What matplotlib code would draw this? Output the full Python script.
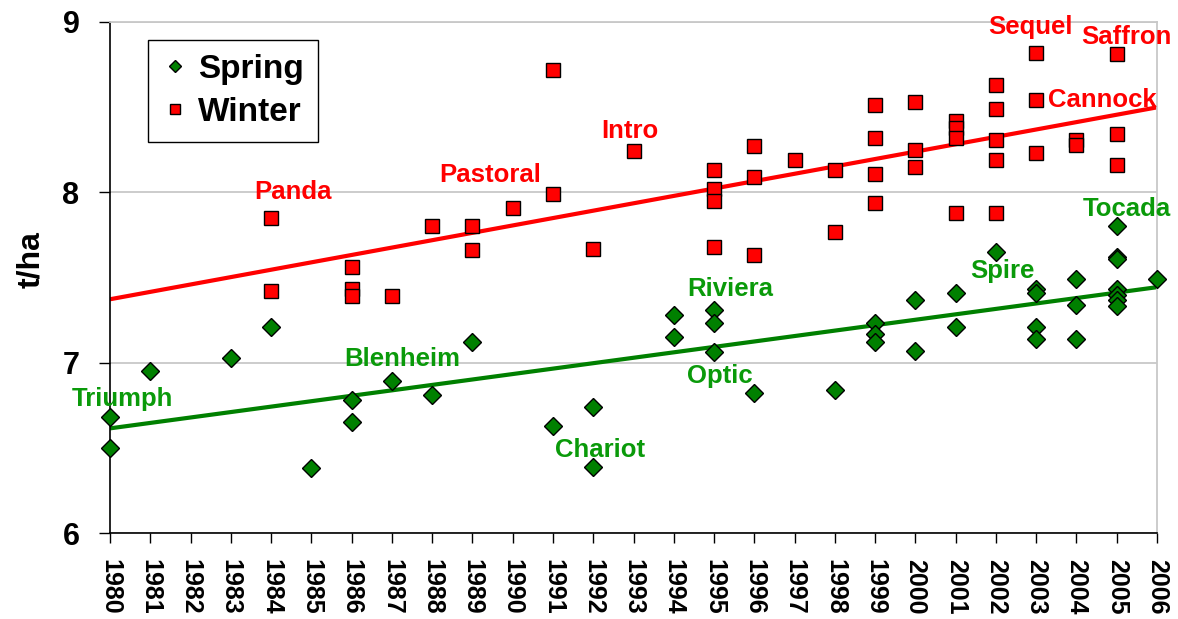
import matplotlib.pyplot as plt
import numpy as np

plt.rcParams['font.family'] = ['Liberation Sans', 'DejaVu Sans']
plt.rcParams['font.weight'] = 'bold'

# Data (t/ha)
spring_year = [1980, 1980, 1981, 1983, 1984, 1985, 1986, 1986, 1987, 1988, 1989,
               1991, 1992, 1992, 1994, 1994, 1995, 1995, 1995, 1996, 1998,
               1999, 1999, 1999, 2000, 2000, 2001, 2001, 2002,
               2003, 2003, 2003, 2003, 2004, 2004, 2004,
               2005, 2005, 2005, 2005, 2005, 2005, 2005, 2006]
spring_yield = [6.68, 6.50, 6.95, 7.03, 7.21, 6.38, 6.78, 6.65, 6.89, 6.81, 7.12,
                6.63, 6.74, 6.39, 7.28, 7.15, 7.31, 7.23, 7.06, 6.82, 6.84,
                7.23, 7.17, 7.12, 7.37, 7.07, 7.41, 7.21, 7.65,
                7.43, 7.41, 7.21, 7.14, 7.49, 7.34, 7.14,
                7.80, 7.62, 7.61, 7.43, 7.40, 7.37, 7.33, 7.49]

winter_year = [1984, 1984, 1986, 1986, 1986, 1987, 1988, 1989, 1989, 1990,
               1991, 1991, 1992, 1993, 1995, 1995, 1995, 1995, 1996, 1996, 1996,
               1997, 1998, 1998, 1999, 1999, 1999, 1999, 2000, 2000, 2000,
               2001, 2001, 2001, 2001, 2002, 2002, 2002, 2002, 2002,
               2003, 2003, 2003, 2004, 2004, 2005, 2005, 2005]
winter_yield = [7.85, 7.42, 7.56, 7.43, 7.39, 7.39, 7.80, 7.80, 7.66, 7.91,
                8.72, 7.99, 7.67, 8.24, 8.13, 8.02, 7.95, 7.68, 8.27, 8.09, 7.63,
                8.19, 8.13, 7.77, 8.51, 8.32, 8.11, 7.94, 8.53, 8.25, 8.15,
                8.42, 8.38, 8.32, 7.88, 8.63, 8.49, 8.31, 8.19, 7.88,
                8.82, 8.54, 8.23, 8.31, 8.28, 8.81, 8.34, 8.16]

years = list(range(1980, 2007))

# variety labels: (name, x, y)
winter_labels = [("Panda", 1984.55, 8.00), ("Pastoral", 1989.45, 8.10),
                 ("Intro", 1992.9, 8.36), ("Sequel", 2002.85, 8.97),
                 ("Saffron", 2005.25, 8.91), ("Cannock", 2004.63, 8.54)]
spring_labels = [("Triumph", 1980.32, 6.785), ("Blenheim", 1987.25, 7.02),
                 ("Chariot", 1992.17, 6.49), ("Riviera", 1995.4, 7.43),
                 ("Optic", 1995.15, 6.92), ("Spire", 2002.15, 7.54),
                 ("Tocada", 2005.25, 7.90)]

green = '#008000'
label_green = '#0a9a0a'
red = '#ff0000'

fig = plt.figure(figsize=(11.78, 6.19), dpi=100)
ax = fig.add_axes([0.0934, 0.1389, 0.8888, 0.8256])

# linear trend lines
xs = np.array([1980, 2006])
p_w = np.polyfit(winter_year, winter_yield, 1)
p_s = np.polyfit(spring_year, spring_yield, 1)
ax.plot(xs, np.polyval(p_w, xs), color=red, lw=3, zorder=2, solid_capstyle='butt')
ax.plot(xs, np.polyval(p_s, xs), color=green, lw=3, zorder=2, solid_capstyle='butt')

ax.plot(spring_year, spring_yield, ls='none', marker='D', ms=9, mfc=green,
        mec='black', mew=1, label='Spring', zorder=3, clip_on=False)
ax.plot(winter_year, winter_yield, ls='none', marker='s', ms=9.5, mfc=red,
        mec='black', mew=1, label='Winter', zorder=3, clip_on=False)

for name, x, y in winter_labels:
    ax.text(x, y, name, color=red, fontsize=18.5, fontweight='bold',
            ha='center', va='center', clip_on=False)
for name, x, y in spring_labels:
    ax.text(x, y, name, color=label_green, fontsize=18.5, fontweight='bold',
            ha='center', va='center', clip_on=False)

ax.set_xlim(1980, 2006)
ax.set_ylim(6, 9)
ax.set_xticks(years)
ax.set_xticklabels([str(y) for y in years], rotation=-90, fontsize=18,
                   fontweight='bold')
ax.set_yticks([6, 7, 8, 9])
ax.set_yticklabels(['6', '7', '8', '9'], fontsize=22, fontweight='bold')
ax.tick_params(axis='y', direction='out', length=8, width=1, pad=14)
ax.tick_params(axis='x', direction='out', length=7, width=1, pad=12)
ax.set_ylabel('t/ha', fontsize=23, fontweight='bold')
ax.yaxis.set_label_coords(-0.061, 0.535)

ax.grid(axis='y', color='#c8c8c8', lw=1.3)
ax.set_axisbelow(True)
for s in ['top', 'right']:
    ax.spines[s].set_color('#c8c8c8')
    ax.spines[s].set_linewidth(1.3)
for s in ['left', 'bottom']:
    ax.spines[s].set_color('black')
    ax.spines[s].set_linewidth(1.2)

leg = ax.legend(loc='upper left', bbox_to_anchor=(0.036, 0.965),
                borderaxespad=0, fancybox=False, edgecolor='black',
                framealpha=1, markerscale=0.72, handlelength=0.8,
                handletextpad=0.3, labelspacing=0.36, borderpad=0.42,
                prop={'size': 24, 'weight': 'bold'})
leg.get_frame().set_linewidth(1)

fig.savefig('out.png', dpi=100)
